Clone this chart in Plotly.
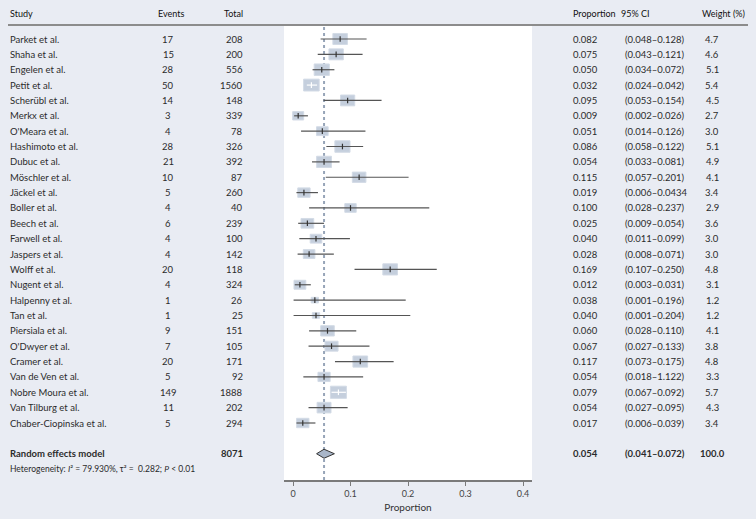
import plotly.graph_objects as go

studies = ["Parket et al.", "Shaha et al.", "Engelen et al.", "Petit et al.", "Scherübl et al.",
           "Merkx et al.", "O'Meara et al.", "Hashimoto et al.", "Dubuc et al.", "Möschler et al.",
           "Jäckel et al.", "Boller et al.", "Beech et al.", "Farwell et al.", "Jaspers et al.",
           "Wolff et al.", "Nugent et al.", "Halpenny et al.", "Tan et al.", "Piersiala et al.",
           "O'Dwyer et al.", "Cramer et al.", "Van de Ven et al.", "Nobre Moura et al.",
           "Van Tilburg et al.", "Chaber-Ciopinska et al."]
events = [17, 15, 28, 50, 14, 3, 4, 28, 21, 10, 5, 4, 6, 4, 4, 20, 4, 1, 1, 9, 7, 20, 5, 149, 11, 5]
totals = [208, 200, 556, 1560, 148, 339, 78, 326, 392, 87, 260, 40, 239, 100, 142, 118, 324, 26, 25,
          151, 105, 171, 92, 1888, 202, 294]
prop = [0.082, 0.075, 0.050, 0.032, 0.095, 0.009, 0.051, 0.086, 0.054, 0.115, 0.019, 0.100, 0.025,
        0.040, 0.028, 0.169, 0.012, 0.038, 0.040, 0.060, 0.067, 0.117, 0.054, 0.079, 0.054, 0.017]
ci_lo = [0.048, 0.043, 0.034, 0.024, 0.053, 0.002, 0.014, 0.058, 0.033, 0.057, 0.006, 0.028, 0.009,
         0.011, 0.008, 0.107, 0.003, 0.001, 0.001, 0.028, 0.027, 0.073, 0.018, 0.067, 0.027, 0.006]
ci_hi = [0.128, 0.121, 0.072, 0.042, 0.154, 0.026, 0.126, 0.122, 0.081, 0.201, 0.0434, 0.237, 0.054,
         0.099, 0.071, 0.250, 0.031, 0.196, 0.204, 0.110, 0.133, 0.175, 0.122, 0.092, 0.095, 0.039]
ci_labels = ["(0.048–0.128)", "(0.043–0.121)", "(0.034–0.072)", "(0.024–0.042)", "(0.053–0.154)",
             "(0.002–0.026)", "(0.014–0.126)", "(0.058–0.122)", "(0.033–0.081)", "(0.057–0.201)",
             "(0.006–0.0434", "(0.028–0.237)", "(0.009–0.054)", "(0.011–0.099)", "(0.008–0.071)",
             "(0.107–0.250)", "(0.003–0.031)", "(0.001–0.196)", "(0.001–0.204)", "(0.028–0.110)",
             "(0.027–0.133)", "(0.073–0.175)", "(0.018–1.122)", "(0.067–0.092)", "(0.027–0.095)",
             "(0.006–0.039)"]
weights = [4.7, 4.6, 5.1, 5.4, 4.5, 2.7, 3.0, 5.1, 4.9, 4.1, 3.4, 2.9, 3.6, 3.0, 3.0, 4.8, 3.1, 1.2,
           1.2, 4.1, 3.8, 4.8, 3.3, 5.7, 4.3, 3.4]

summary_label = "Random effects model"
summary_total = 8071
summary_est = 0.054
summary_lo = 0.041
summary_hi = 0.072
summary_ci_label = "(0.041–0.072)"
summary_weight = 100.0
heterogeneity = "Heterogeneity: <i>I</i>² = 79.930%, τ² =  0.282; <i>P</i> < 0.01"

headers = ["Study", "Events", "Total", "Proportion", "95% CI", "Weight (%)"]
x_ticks = [0, 0.1, 0.2, 0.3, 0.4]

# ---------------- layout constants ----------------
W, H = 756, 519
BG = "#e9ecf3"
FONT = "Lato"
TXT = "#2b2b2b"
row_px = 15.36
row0_px = 39.0
axis_bottom_px = 480.0
plot_top_px = 26.0
x_left_px, x_right_px = 284.0, 532.0
px_per_unit = 575.0
x0_px = 293.0

def prow(p):
    return (p - row0_px) / row_px

y_top = prow(0)
y_bot = prow(axis_bottom_px)
x_min = (x_left_px - x0_px) / px_per_unit
x_max = (x_right_px - x0_px) / px_per_unit
n = len(studies)
rows = list(range(n))
sum_row = n + 1
het_row = n + 2
hdr_row = prow(13)
line_row = prow(25)

def px(x):
    return x / W

fig = go.Figure()

shapes = []
# white plot panel
shapes.append(dict(type="rect", xref="x domain", yref="y domain", x0=0, x1=1, y0=0,
                   y1=(axis_bottom_px - plot_top_px) / axis_bottom_px,
                   fillcolor="white", line=dict(width=0), layer="below"))
# header rule
shapes.append(dict(type="line", xref="paper", yref="y", x0=px(8), x1=px(748), y0=line_row, y1=line_row,
                   line=dict(color="#8c8c8c", width=2)))
# summary dotted line
shapes.append(dict(type="line", xref="x", yref="y domain", x0=summary_est, x1=summary_est, y0=0,
                   y1=(axis_bottom_px - plot_top_px) / axis_bottom_px,
                   line=dict(color="#97a5b8", width=2, dash="dot"), layer="below"))

# boxes
box_w_px = 6.7
box_h_px = 5.1
line_colors = []
for i in rows:
    s = weights[i] ** 0.5
    hw = box_w_px * s / 2 / px_per_unit
    hh = box_h_px * s / 2 / row_px
    shapes.append(dict(type="rect", xref="x", yref="y", x0=prop[i] - hw, x1=prop[i] + hw,
                       y0=i - hh, y1=i + hh, fillcolor="#c5cfdd",
                       line=dict(color="#d3dbe6", width=1), layer="below"))
    inside = ci_lo[i] >= prop[i] - hw and ci_hi[i] <= prop[i] + hw
    line_colors.append("#ffffff" if inside else "#555555")

# CI lines and point ticks
for col, tick_col in [("#555555", "#333333"), ("#ffffff", "#ffffff")]:
    idx = [i for i in rows if line_colors[i] == col]
    xs, ys = [], []
    for i in idx:
        xs += [ci_lo[i], ci_hi[i], None]
        ys += [i, i, None]
    fig.add_trace(go.Scatter(x=xs, y=ys, mode="lines", line=dict(color=col, width=1.2),
                             hoverinfo="skip", showlegend=False))
    fig.add_trace(go.Scatter(x=[prop[i] for i in idx], y=idx, mode="markers",
                             marker=dict(symbol="line-ns-open", size=4, color=tick_col,
                                         line=dict(color=tick_col, width=1.2)),
                             hoverinfo="skip", showlegend=False))

# diamond
dh = 4.5 / row_px
fig.add_trace(go.Scatter(x=[summary_lo, summary_est, summary_hi, summary_est, summary_lo],
                         y=[sum_row, sum_row - dh, sum_row, sum_row + dh, sum_row],
                         mode="lines", fill="toself", fillcolor="#a9b6c9",
                         line=dict(color="#333333", width=1), hoverinfo="skip", showlegend=False))

ann = []
def text(x, y, s, anchor="left", size=9.5, bold=False, color=TXT):
    if bold:
        s = "<b>" + s + "</b>"
    ann.append(dict(xref="paper", yref="y", x=px(x), y=y, text=s, showarrow=False,
                    xanchor=anchor, yanchor="middle", font=dict(family=FONT, size=size, color=color)))

# headers
hdr_pos = [(8, "left"), (171, "center"), (245, "right"), (571, "left"), (619, "left"), (747, "right")]
for h, (x, a) in zip(headers, hdr_pos):
    text(x, hdr_row, h, a, size=9, color="#111111")

for i in rows:
    text(8, i, studies[i])
    text(168, i, str(events[i]), "center")
    text(245, i, str(totals[i]), "right")
    text(571, i, f"{prop[i]:.3f}")
    text(623, i, ci_labels[i])
    text(712, i, f"{weights[i]:.1f}", "center")

text(8, sum_row, summary_label, bold=True)
text(245, sum_row, str(summary_total), "right", bold=True)
text(571, sum_row, f"{summary_est:.3f}", bold=True)
text(623, sum_row, summary_ci_label, bold=True)
text(712, sum_row, f"{summary_weight:.1f}", "center", bold=True)
text(8, het_row, heterogeneity, size=8.5)

fig.update_layout(
    width=W, height=H, margin=dict(l=0, r=0, t=0, b=0),
    paper_bgcolor=BG, plot_bgcolor=BG,
    shapes=shapes, annotations=ann, showlegend=False,
    xaxis=dict(domain=[px(x_left_px), px(x_right_px)], range=[x_min, x_max],
               tickvals=x_ticks, ticktext=[f"{v:g}" for v in x_ticks],
               showgrid=False, zeroline=False, showline=True, linecolor="#7a7a7a", linewidth=1.5,
               ticks="outside", ticklen=4, tickcolor="#7a7a7a", tickwidth=1.2,
               tickfont=dict(family=FONT, size=9, color="#444444"),
               title=dict(text="Proportion", font=dict(family=FONT, size=10, color="#333333"), standoff=6),
               automargin=False, fixedrange=True),
    yaxis=dict(domain=[(H - axis_bottom_px) / H, 1], range=[y_bot, y_top], visible=False,
               showgrid=False, zeroline=False, automargin=False, fixedrange=True),
)

fig.write_html("out.html")
